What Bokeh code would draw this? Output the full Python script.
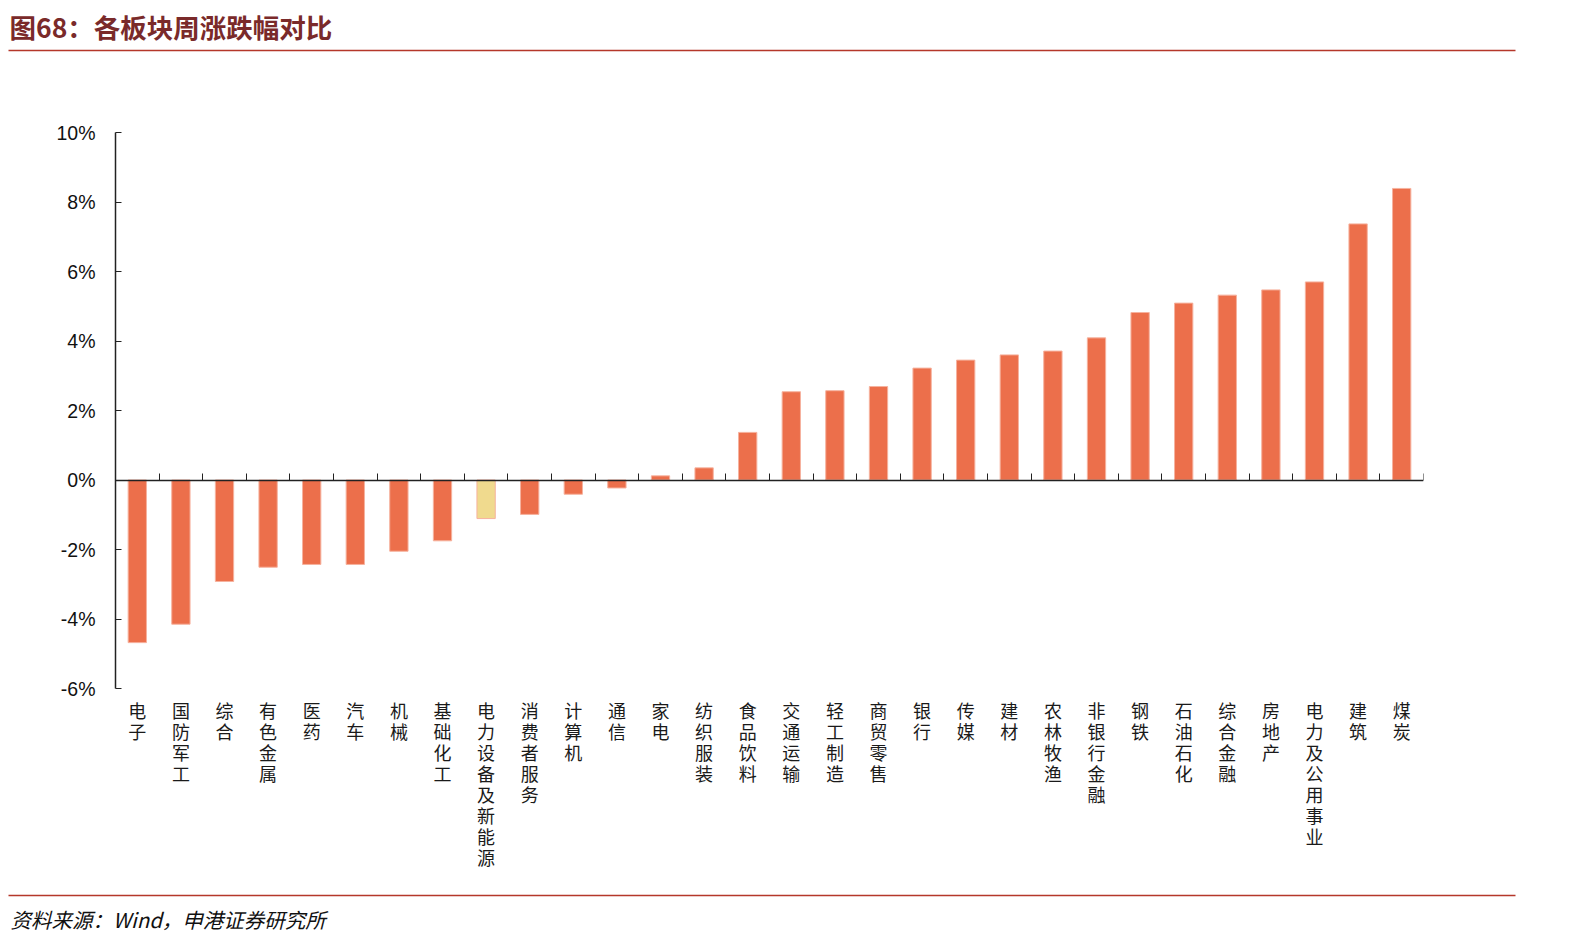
from bokeh.plotting import figure
from bokeh.models import (ColumnDataSource, Range1d, LinearAxis,
                          FixedTicker, PrintfTickFormatter)
from bokeh.core.properties import value
from bokeh.embed import file_html
from bokeh.resources import INLINE

# ---------------- data ----------------
categories = ["电子", "国防军工", "综合", "有色金属", "医药", "汽车", "机械", "基础化工",
              "电力设备及新能源", "消费者服务", "计算机", "通信", "家电", "纺织服装",
              "食品饮料", "交通运输", "轻工制造", "商贸零售", "银行", "传媒", "建材",
              "农林牧渔", "非银行金融", "钢铁", "石油石化", "综合金融", "房地产",
              "电力及公用事业", "建筑", "煤炭"]
changes = [-4.68, -4.15, -2.92, -2.51, -2.43, -2.43, -2.05, -1.75,
           -1.11, -0.99, -0.41, -0.23, 0.12, 0.35,
           1.37, 2.54, 2.57, 2.69, 3.22, 3.45, 3.60,
           3.71, 4.09, 4.82, 5.09, 5.32, 5.47,
           5.70, 7.37, 8.39]
highlight = "电力设备及新能源"
y_ticks = [-6, -4, -2, 0, 2, 4, 6, 8, 10]

title_text = "图68：各板块周涨跌幅对比"
source_text = "资料来源：Wind，申港证券研究所"

W = 1594
BAR = "#EC6F4B"
HL = "#F0DA8E"
RED_LINE = "#B5372A"
N = len(categories)

# ---------------- title strip ----------------
top = figure(width=W, height=60, x_range=Range1d(0, W), y_range=Range1d(60, 0),
             x_axis_type=None, y_axis_type=None, toolbar_location=None,
             output_backend="svg", min_border=0, outline_line_color=None)
top.grid.visible = False
top.text(x=[9], y=[26], text=[title_text], text_font=value("Noto Sans CJK SC"),
         text_font_style="bold", text_font_size="26.5px", text_color="#7A2A2A",
         text_baseline="middle", text_align="left")
top.segment(x0=[8], y0=[50], x1=[1515], y1=[50], line_color=RED_LINE, line_width=1.5)

# ---------------- main chart ----------------
centers = [i + 0.5 for i in range(N)]
colors = [HL if c == highlight else BAR for c in categories]
src = ColumnDataSource(dict(x=centers, cat=categories, val=changes, color=colors))

p = figure(width=W, height=830, x_range=Range1d(0, N),
           y_range=Range1d(-6, 10), toolbar_location=None, output_backend="svg",
           min_border_left=115, min_border_right=W - 1423, min_border_top=72,
           min_border_bottom=202, outline_line_color=None)
p.grid.visible = False

p.vbar(x="x", top="val", bottom=0, width=0.42, source=src,
       fill_color="color", line_color="#F6B29E", line_width=1)

# category labels (vertical, one char per line)
xa = p.xaxis[0]
xa.ticker = FixedTicker(ticks=centers)
xa.major_label_overrides = {x: "\n".join(list(c)) for x, c in zip(centers, categories)}
xa.axis_line_alpha = 0
xa.major_tick_line_alpha = 0
xa.minor_tick_line_alpha = 0
xa.major_label_text_font = "Noto Sans CJK SC"
xa.major_label_text_font_size = "18px"
xa.major_label_text_color = "#1a1a1a"
xa.major_label_standoff = 2
xa.major_label_text_line_height = 0.81

# y axis
ya = p.yaxis[0]
ya.ticker = FixedTicker(ticks=y_ticks)
ya.formatter = PrintfTickFormatter(format="%d%%")
ya.major_tick_in = 6
ya.major_tick_out = 0
ya.minor_tick_line_alpha = 0
ya.axis_line_color = "#222222"
ya.axis_line_width = 1.5
ya.major_tick_line_color = "#222222"
ya.major_label_text_font = "Liberation Sans"
ya.major_label_text_font_size = "19.5px"
ya.major_label_text_color = "#111111"
ya.major_label_standoff = 20

# zero axis with ticks at category boundaries (no labels)
bounds = list(range(1, N + 1))
zero_axis = LinearAxis(fixed_location=0,
                       ticker=FixedTicker(ticks=bounds),
                       major_label_overrides={b: "" for b in bounds},
                       major_tick_out=7, major_tick_in=0,
                       major_label_standoff=0,
                       minor_tick_line_alpha=0,
                       axis_line_color="#222222", axis_line_width=1.5,
                       major_tick_line_color="#222222")
p.add_layout(zero_axis, "above")

# ---------------- footer strip ----------------
bot = figure(width=W, height=53, x_range=Range1d(0, W), y_range=Range1d(53, 0),
             x_axis_type=None, y_axis_type=None, toolbar_location=None,
             output_backend="svg", min_border=0, outline_line_color=None)
bot.grid.visible = False
bot.segment(x0=[8], y0=[5], x1=[1515], y1=[5], line_color=RED_LINE, line_width=1.5)
bot.text(x=[10], y=[28], text=[source_text], text_font=value("Noto Sans CJK SC"),
         text_font_style="italic", text_font_size="20.5px", text_color="#111111",
         text_baseline="middle", text_align="left")

open("out.html", "w").write(file_html([top, p, bot], INLINE))
